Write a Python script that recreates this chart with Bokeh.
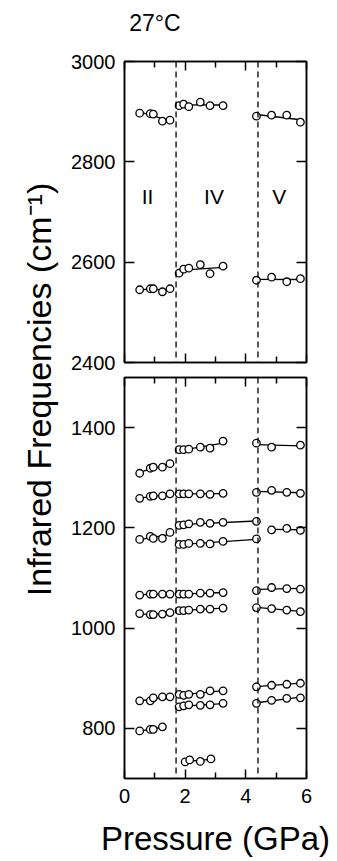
import numpy as np
from math import pi
from bokeh.plotting import figure
from bokeh.models import FixedTicker, LinearAxis, Span, Label, Range1d, CustomLabelingPolicy
from bokeh.layouts import row, column
from bokeh.embed import file_html
from bokeh.resources import INLINE

FONT = "Liberation Sans"

# ---------------- data (pressure in GPa, frequency in cm^-1) ----------------
P_II = [0.5, 0.85, 0.95, 1.25, 1.5]
P_II_short = [0.5, 0.85, 0.95, 1.25]
P_IV = [1.8, 1.95, 2.12, 2.5, 2.82, 3.25]
P_IV_ext = [1.8, 1.95, 2.12, 2.5, 2.82, 3.25, 4.35]
P_IV_low = [2.0, 2.15, 2.5, 2.85]
P_V = [4.35, 4.85, 5.35, 5.8]
P_V_a = [4.35, 4.85, 5.8]
P_V_b = [4.85, 5.35, 5.8]

# upper panel
top_II_a = [2897, 2896, 2895, 2881, 2883]
top_II_b = [2545, 2547, 2547, 2541, 2547]
top_IV_a = [2912, 2915, 2910, 2919, 2912, 2912]
top_IV_b = [2578, 2586, 2588, 2595, 2577, 2592]
top_V_a = [2891, 2893, 2893, 2879]
top_V_b = [2564, 2570, 2561, 2567]

# lower panel
bot_II_1 = [1309, 1319, 1321, 1321, 1328]
bot_II_2 = [1259, 1263, 1264, 1264, 1268]
bot_II_3 = [1177, 1183, 1179, 1179, 1191]
bot_II_4 = [1066, 1068, 1068, 1068, 1068]
bot_II_5 = [1029, 1027, 1027, 1028, 1031]
bot_II_6 = [855, 855, 861, 863, 863]
bot_II_7 = [795, 798, 798, 803]

bot_IV_1 = [1356, 1356, 1357, 1361, 1359, 1373]
bot_IV_2 = [1268, 1268, 1268, 1268, 1267, 1269]
bot_IV_3 = [1205, 1206, 1208, 1211, 1209, 1211, 1213]
bot_IV_4 = [1167, 1167, 1169, 1169, 1168, 1173, 1178]
bot_IV_5 = [1068, 1068, 1068, 1070, 1070, 1071]
bot_IV_6 = [1035, 1035, 1036, 1038, 1038, 1040]
bot_IV_7 = [868, 866, 868, 868, 875, 875]
bot_IV_8 = [843, 845, 847, 846, 847, 850]
bot_IV_9 = [733, 737, 734, 739]

bot_V_1 = [1369, 1361, 1365]
bot_V_2 = [1271, 1275, 1271, 1269]
bot_V_3 = [1196, 1199, 1195]
bot_V_4 = [1075, 1081, 1079, 1078]
bot_V_5 = [1041, 1039, 1036, 1033]
bot_V_6 = [883, 886, 888, 890]
bot_V_7 = [850, 856, 860, 861]

phase_bounds = [1.7, 4.4]
phase_names = ["II", "IV", "V"]
phase_label_x = [0.76, 2.95, 5.1]
phase_label_y = 2731
temp_label = "27°C"
temp_label_x = 1.0

x_ticks = [0, 2, 4, 6]
x_minor = [1, 3, 5]
top_yticks = [2400, 2600, 2800, 3000]
bot_yticks = [800, 1000, 1200, 1400]

top_groups = [(P_II, top_II_a), (P_II, top_II_b), (P_IV, top_IV_a), (P_IV, top_IV_b),
              (P_V, top_V_a), (P_V, top_V_b)]
bot_groups = [(P_II, bot_II_1), (P_II, bot_II_2), (P_II, bot_II_3), (P_II, bot_II_4),
              (P_II, bot_II_5), (P_II, bot_II_6), (P_II_short, bot_II_7),
              (P_IV, bot_IV_1), (P_IV, bot_IV_2), (P_IV_ext, bot_IV_3), (P_IV_ext, bot_IV_4),
              (P_IV, bot_IV_5), (P_IV, bot_IV_6), (P_IV, bot_IV_7), (P_IV, bot_IV_8),
              (P_IV_low, bot_IV_9),
              (P_V_a, bot_V_1), (P_V, bot_V_2), (P_V_b, bot_V_3), (P_V, bot_V_4),
              (P_V, bot_V_5), (P_V, bot_V_6), (P_V, bot_V_7)]

NO_LABELS_CODE = """
for (const i of indices) { indices.unset(i) }
return indices
"""


def style_axis(ax, labels=True):
    ax.axis_line_color = "black"
    ax.axis_line_width = 1.5
    ax.major_tick_line_color = "black"
    ax.major_tick_line_width = 1.5
    ax.minor_tick_line_color = "black"
    ax.minor_tick_line_width = 1.5
    ax.major_tick_in = 9
    ax.major_tick_out = 0
    ax.minor_tick_in = 6
    ax.minor_tick_out = 0
    ax.major_label_text_font = FONT
    ax.major_label_text_color = "black"
    if labels:
        ax.major_label_text_font_size = "20px"
    else:
        ax.major_label_text_font_size = "0px"
        ax.major_label_policy = CustomLabelingPolicy(code=NO_LABELS_CODE)
        ax.major_label_standoff = 0


def make_panel(height, yr, yticks, min_top, min_bottom, xlabels):
    p = figure(width=268, height=height, x_range=Range1d(0, 6), y_range=Range1d(*yr),
               output_backend="svg", toolbar_location=None,
               x_axis_location=None, y_axis_location=None,
               min_border_left=56, min_border_right=30,
               min_border_top=min_top, min_border_bottom=min_bottom)
    p.xgrid.visible = False
    p.ygrid.visible = False
    p.outline_line_color = "black"
    p.outline_line_width = 1.5
    p.background_fill_color = "white"
    p.border_fill_color = "white"

    xb = LinearAxis(ticker=FixedTicker(ticks=x_ticks, minor_ticks=x_minor))
    style_axis(xb, labels=xlabels)
    if xlabels:
        xb.major_label_standoff = 10
        xb.axis_label = "Pressure (GPa)"
        xb.axis_label_text_font = FONT
        xb.axis_label_text_font_size = "33px"
        xb.axis_label_text_font_style = "normal"
        xb.axis_label_text_color = "black"
        xb.axis_label_standoff = 14
    p.add_layout(xb, "below")
    xt = LinearAxis(ticker=FixedTicker(ticks=x_ticks, minor_ticks=x_minor))
    style_axis(xt, labels=False)
    p.add_layout(xt, "above")

    yl = LinearAxis(ticker=FixedTicker(ticks=yticks))
    style_axis(yl, labels=True)
    yl.major_tick_in = 10
    yl.major_label_standoff = 9
    p.add_layout(yl, "left")
    yr_ax = LinearAxis(ticker=FixedTicker(ticks=yticks))
    style_axis(yr_ax, labels=False)
    yr_ax.major_tick_in = 10
    p.add_layout(yr_ax, "right")

    for b in phase_bounds:
        p.add_layout(Span(location=b, dimension="height", line_color="black",
                          line_width=1.3, line_dash="6 4"))
    return p


def draw_groups(p, groups):
    for px, fy in groups:
        px = np.asarray(px, dtype=float)
        fy = np.asarray(fy, dtype=float)
        k, c = np.polyfit(px, fy, 1)
        xs = [px.min(), px.max()]
        p.line(xs, [k * xs[0] + c, k * xs[1] + c], line_color="black", line_width=1.3)
        p.scatter(px, fy, marker="circle", size=7.5, fill_color="white",
                  line_color="black", line_width=1.3)


# heading strip carrying the temperature label (its frame aligns with the panels)
head = figure(width=268, height=45, x_range=Range1d(0, 6), y_range=Range1d(0, 45),
              output_backend="svg", toolbar_location=None,
              x_axis_location=None, y_axis_location=None,
              min_border_left=56, min_border_right=30,
              min_border_top=0, min_border_bottom=0)
head.outline_line_color = None
head.xgrid.visible = False
head.ygrid.visible = False
head.add_layout(Label(x=temp_label_x, y=23, text=temp_label, text_align="center",
                      text_baseline="middle", text_font=FONT, text_font_size="23px",
                      text_color="black"))

top = make_panel(327, (2400, 3000), top_yticks, 16, 10, False)
draw_groups(top, top_groups)
for nm, lx in zip(phase_names, phase_label_x):
    top.add_layout(Label(x=lx, y=phase_label_y, text=nm, text_align="center",
                         text_baseline="middle", text_font=FONT, text_font_size="21px",
                         text_color="black"))

bot = make_panel(488, (700, 1500), bot_yticks, 5, 82, True)
draw_groups(bot, bot_groups)

lab = figure(width=68, height=860, x_range=Range1d(0, 68), y_range=Range1d(0, 860),
             output_backend="svg", toolbar_location=None,
             x_axis_location=None, y_axis_location=None,
             min_border=0, min_border_left=0, min_border_right=0,
             min_border_top=0, min_border_bottom=0)
lab.outline_line_color = None
lab.xgrid.visible = False
lab.ygrid.visible = False
lab.add_layout(Label(x=38, y=471, text="Infrared Frequencies (cm\u207b\u00b9)", angle=pi / 2,
                     text_align="center", text_baseline="middle", text_font=FONT,
                     text_font_size="34px", text_color="black"))

layout = row(lab, column(head, top, bot))
open("out.html", "w").write(file_html(layout, INLINE))
